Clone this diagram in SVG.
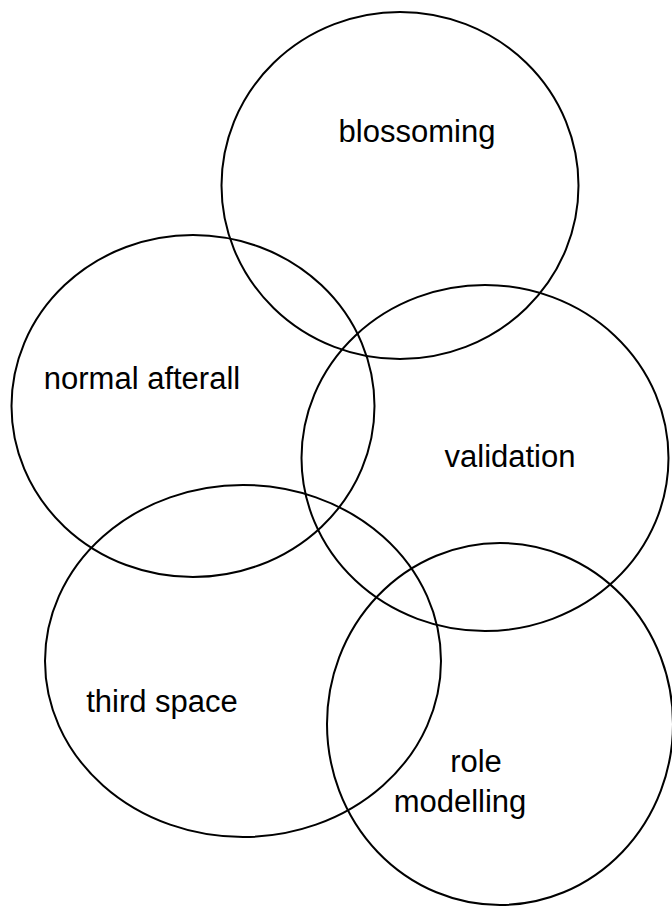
<svg xmlns="http://www.w3.org/2000/svg" width="672" height="907" viewBox="0 0 672 907">
<style>
.c{fill:none;stroke:#000;stroke-width:2}
.t{font-family:"Liberation Sans",Arial,sans-serif;font-size:31px;fill:#000;text-anchor:middle}
</style>
<rect width="672" height="907" fill="#fff"/>
<g id="blossoming"><ellipse class="c" cx="400" cy="185.5" rx="178.5" ry="173.5"/><text class="t" x="417" y="142">blossoming</text></g>
<g id="normal-afterall"><ellipse class="c" cx="193" cy="406" rx="181.5" ry="171"/><text class="t" x="142" y="389">normal afterall</text></g>
<g id="validation"><ellipse class="c" cx="485" cy="458" rx="183.5" ry="173"/><text class="t" x="510" y="467">validation</text></g>
<g id="third-space"><ellipse class="c" cx="243" cy="661" rx="198" ry="176"/><text class="t" x="162" y="712">third space</text></g>
<g id="role-modelling"><ellipse class="c" cx="500" cy="724" rx="173" ry="181"/><text class="t" x="476" y="772">role</text><text class="t" x="460" y="812">modelling</text></g>
<g id="connectors"></g>
</svg>
